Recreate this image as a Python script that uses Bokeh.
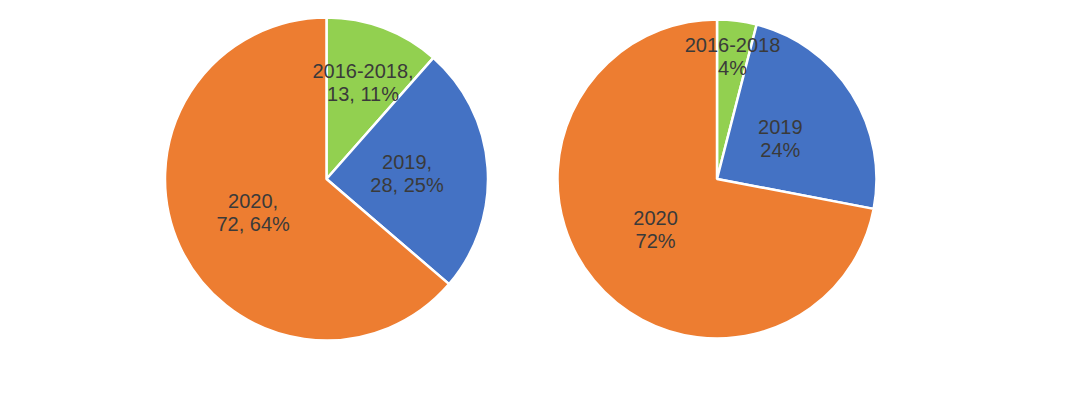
import math
from bokeh.plotting import figure
from bokeh.models import Range1d, ColumnDataSource
from bokeh.core.properties import value
from bokeh.embed import file_html
from bokeh.resources import INLINE

# ---- data ----
categories = ["2016-2018", "2019", "2020"]
left_values = [13, 28, 72]
left_pct = [11, 25, 64]
right_pct = [4, 24, 72]
colors = ["#92D050", "#4472C4", "#ED7D31"]

# label radial fraction (style)
left_label_frac = [0.64, 0.5, 0.5]
right_label_frac = [0.775, 0.47, 0.5]

W, H = 1056, 382
p = figure(width=W, height=H, output_backend="svg", toolbar_location=None,
           x_range=Range1d(0, W), y_range=Range1d(398 - H, 398),
           min_border=0, outline_line_color=None)
p.axis.visible = False
p.grid.visible = False
p.background_fill_color = "white"
p.border_fill_color = "white"


def pie(cx, cy, r, vals, labels, fracs):
    total = float(sum(vals))
    cum = 0.0
    starts, ends, lx, ly = [], [], [], []
    for v, f in zip(vals, fracs):
        a0 = cum / total
        cum += v
        a1 = cum / total
        starts.append(math.pi / 2 - a1 * 2 * math.pi)
        ends.append(math.pi / 2 - a0 * 2 * math.pi)
        mid = math.pi / 2 - (a0 + a1) / 2 * 2 * math.pi
        lx.append(cx + f * r * math.cos(mid))
        ly.append(cy + f * r * math.sin(mid))
    src = ColumnDataSource(dict(x=[cx] * len(vals), y=[cy] * len(vals),
                                s=starts, e=ends, c=colors))
    p.wedge(x="x", y="y", radius=r, start_angle="s", end_angle="e",
            fill_color="c", line_color="white", line_width=2.5, source=src)
    tsrc = ColumnDataSource(dict(x=lx, y=ly, t=labels))
    p.text(x="x", y="y", text="t", source=tsrc, text_align="center",
           text_baseline="middle", text_color="#3a3a3a",
           text_font=value("Liberation Sans"), text_font_size="20px",
           text_line_height=1.05)


left_labels = [f"{c},\n{v}, {pc}%"
               for c, v, pc in zip(categories, left_values, left_pct)]
right_labels = [f"{c}\n{v}%" for c, v in zip(categories, right_pct)]

pie(326, 398 - 178.5, 161.5, left_values, left_labels, left_label_frac)
pie(716.5, 398 - 178.5, 159.5, right_pct, right_labels, right_label_frac)

open("out.html", "w").write(file_html(p, INLINE))
